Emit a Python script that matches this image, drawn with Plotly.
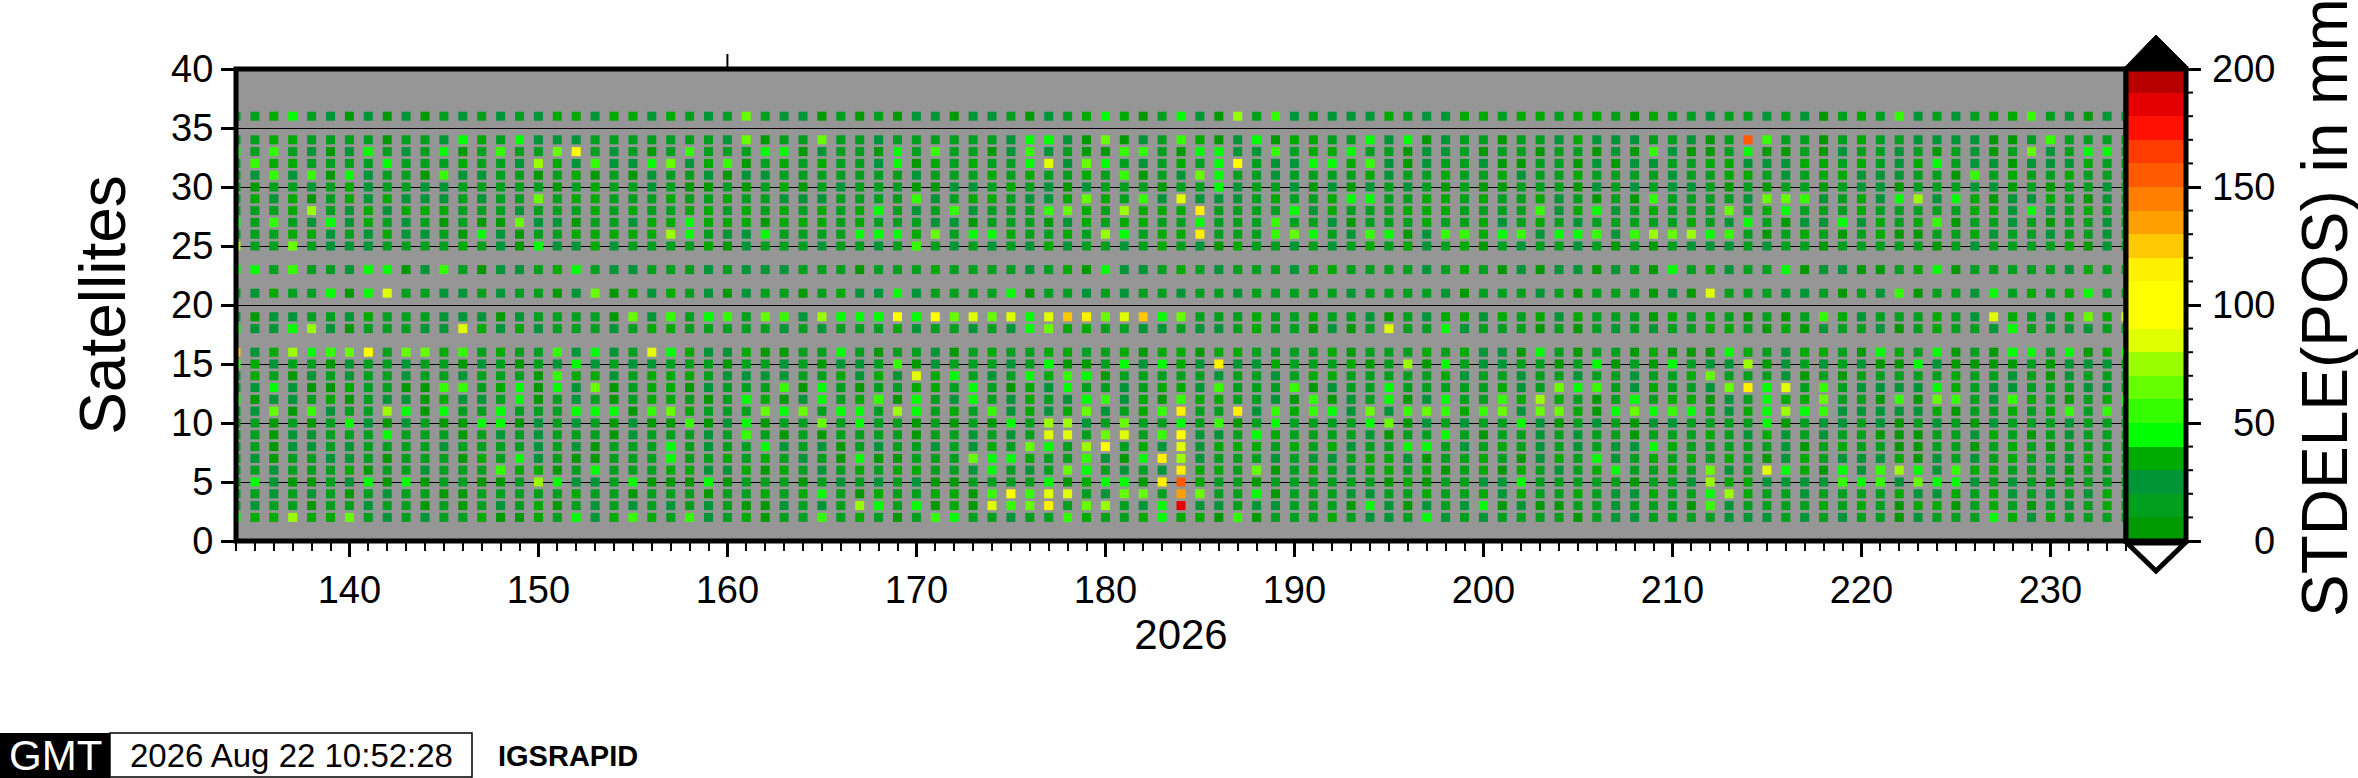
import plotly.graph_objects as go

# days of year 2026 on the x axis
days = list(range(134, 235))

# colour band per cell (band n = n*10 to n*10+10 mm)
# each row holds days 134..233 in tens, then day 234
sat36 = [1,1,3,4,1,2,0,2,0,2, 0,1,2,1,2,1,2,3,3,2, 3,3,2,3,1,2,1,6,1,2, 2,0,1,0,1,0,2,2,0,2, 2,1,0,2,1,3,4,3,0,1, 4,2,0,7,1,5,2,1,2,2, 2,3,1,2,2,3,3,1,3,3, 1,3,3,1,0,3,1,1,2,1, 1,2,1,2,0,1,3,1,5,2, 1,2,1,3,3,5,1,2,0,2, 2]
sat34 = [1,1,3,3,1,1,1,1,0,1, 1,2,4,3,1,4,2,2,2,1, 1,1,1,1,1,1,2,6,0,1, 1,6,1,1,2,1,1,1,1,1, 1,2,4,4,2,0,6,0,2,1, 5,3,0,2,4,0,3,3,1,1, 4,2,4,0,2,1,1,0,1,1, 2,3,2,2,2,1,1,2,0,1, 15,5,1,1,0,1,3,1,1,2, 2,2,2,0,0,1,5,1,1,1, 1]
sat33 = [4,1,5,1,2,0,2,4,1,2, 1,4,0,1,5,1,1,6,9,1, 2,1,0,1,5,1,1,1,4,4, 0,2,1,1,0,4,1,5,1,1, 0,2,5,2,1,0,0,5,5,1, 0,4,4,2,2,5,1,3,3,4, 1,1,0,2,2,1,0,1,1,0, 1,1,0,2,0,5,2,0,0,1, 4,0,0,1,0,2,1,1,2,1, 0,1,2,0,1,6,2,1,4,4, 1]
sat32 = [1,5,3,3,1,1,1,1,4,1, 1,1,3,1,1,2,7,3,2,5, 2,2,4,6,2,3,5,0,1,3, 1,3,1,1,2,4,0,3,1,3, 1,1,4,8,2,6,4,1,2,1, 3,1,4,9,1,2,2,4,4,3, 5,2,0,2,1,1,2,0,0,1, 1,0,2,0,2,2,1,1,3,3, 2,2,2,3,3,1,3,1,2,3, 4,1,2,2,0,2,2,2,3,1, 1]
sat31 = [1,2,5,2,5,0,4,2,1,1, 0,5,2,2,1,1,0,1,3,0, 1,0,2,1,1,2,0,2,2,1, 1,1,1,1,1,1,2,1,1,1, 3,1,3,1,1,3,1,5,0,1, 2,6,4,1,1,2,1,1,1,1, 3,2,1,1,3,1,1,3,2,1, 1,3,1,1,1,1,2,1,1,3, 3,1,2,1,3,3,2,2,2,1, 1,0,5,1,3,1,1,3,1,1, 1]
sat30 = [1,0,1,1,2,1,3,2,1,1, 2,2,1,1,1,1,1,0,1,3, 1,1,2,1,0,0,1,0,1,3, 0,1,2,1,1,1,0,0,2,2, 1,3,1,2,0,2,1,1,1,0, 1,1,4,2,1,1,2,0,2,0, 2,1,2,1,0,1,0,0,1,1, 1,0,2,1,2,1,2,2,1,0, 1,0,1,1,0,1,2,2,0,1, 1,1,2,2,0,1,0,1,1,2, 1]
sat29 = [1,3,2,3,0,1,3,2,3,2, 2,2,1,2,1,1,6,1,3,3, 1,1,1,3,1,1,3,1,1,2, 2,2,1,1,1,1,5,2,1,3, 3,1,2,2,3,6,3,1,5,2, 8,2,2,2,1,3,1,1,3,4, 4,1,1,3,3,1,3,1,1,3, 2,1,0,1,0,5,1,1,1,1, 2,6,6,5,2,1,3,2,4,7, 2,4,3,0,2,2,3,1,0,2, 1]
sat28 = [1,1,1,3,7,1,2,3,2,3, 3,3,1,1,1,2,1,1,1,3, 1,3,1,1,3,3,1,3,1,3, 1,3,1,3,4,1,2,1,5,2, 1,1,1,5,6,3,1,7,3,3, 3,11,1,1,1,1,4,2,3,1, 1,1,3,3,3,1,1,1,1,5, 2,3,4,2,1,3,1,1,1,6, 1,3,4,1,1,1,3,1,1,1, 1,1,3,3,2,4,2,1,3,1, 1]
sat27 = [4,1,5,1,2,4,2,3,1,2, 1,0,1,0,0,6,2,2,0,1, 1,2,3,3,4,3,3,3,0,3, 3,3,1,3,1,1,1,2,2,0, 1,1,1,0,2,3,1,3,3,1, 1,4,1,1,1,5,1,1,2,0, 1,1,1,3,1,1,3,2,1,3, 1,2,1,1,1,1,1,3,1,2, 4,1,0,2,2,4,2,3,1,3, 5,0,1,1,2,1,0,1,1,2, 1]
sat26 = [1,1,1,3,3,2,1,2,3,2, 2,1,0,4,2,0,1,1,3,3, 3,3,3,7,4,1,2,2,4,1, 1,1,1,4,4,4,3,6,1,4, 4,3,1,1,3,1,7,4,1,3, 3,11,1,1,1,5,6,4,1,2, 5,4,0,2,5,5,3,4,5,2, 4,4,5,2,5,7,6,7,4,5, 1,0,1,3,1,0,1,3,0,0, 1,1,3,2,1,1,2,1,1,2, 1]
sat25 = [7,1,1,6,1,2,2,2,1,1, 1,1,3,1,2,0,4,2,2,3, 2,1,1,1,1,3,0,2,1,1, 1,2,1,1,2,1,5,1,2,1, 2,1,2,3,2,1,1,2,1,3, 1,2,0,3,1,1,2,1,2,1, 3,1,3,2,1,3,0,1,2,1, 1,2,1,0,1,0,1,2,2,2, 1,2,1,1,0,1,1,1,1,1, 0,1,2,1,1,1,1,3,0,2, 1]
sat23 = [4,4,1,5,1,1,2,4,4,0, 2,5,1,0,2,2,1,3,4,1, 2,2,1,1,1,2,1,2,2,2, 1,1,1,0,1,1,1,3,1,1, 1,1,2,1,3,0,4,2,2,1, 3,1,2,1,1,1,2,3,3,1, 1,1,1,2,1,3,1,0,2,0, 2,2,0,2,1,0,4,1,3,2, 1,1,4,0,2,2,0,0,1,3, 4,0,1,1,1,1,1,2,3,1, 1]
sat21 = [1,2,3,1,1,4,0,4,8,1, 1,2,2,1,2,1,1,0,2,6, 0,3,2,3,1,2,0,2,1,1, 0,1,3,2,2,4,2,1,1,1, 1,4,0,1,1,2,1,2,1,1, 2,1,1,2,1,1,1,1,1,2, 1,1,1,1,2,0,1,1,1,2, 1,0,1,1,1,0,2,0,8,1, 1,1,2,2,1,0,1,2,5,0, 1,1,2,4,1,3,1,3,4,1, 1]
sat19 = [2,0,2,2,1,1,2,3,1,1, 1,2,2,2,0,2,1,1,1,1, 0,6,2,5,1,4,5,1,6,5, 2,7,4,4,4,9,4,9,6,8, 6,8,4,8,12,11,6,8,12,4, 6,1,1,1,3,1,1,3,1,1, 2,0,1,2,3,3,2,3,1,3, 2,3,1,1,1,0,3,1,3,1, 0,1,0,1,5,3,2,1,1,1, 3,1,2,8,3,1,2,3,6,3, 8]
sat18 = [4,2,2,4,7,2,0,1,1,1, 2,2,8,3,2,3,2,1,1,1, 2,1,3,3,1,1,1,1,1,2, 1,2,1,1,1,3,2,1,1,2, 1,2,4,6,3,3,1,1,2,2, 1,2,2,1,3,1,1,0,2,0, 1,8,1,1,4,2,1,1,1,0, 1,0,1,2,1,2,1,1,3,3, 1,0,3,0,2,1,1,2,0,1, 3,1,1,2,4,1,1,2,2,1, 1]
sat16 = [12,2,3,7,4,5,6,9,1,6, 6,3,5,1,3,1,1,5,2,4, 2,1,8,4,3,2,2,3,0,0, 1,1,4,1,0,1,1,2,0,1, 3,1,1,3,3,1,1,3,0,3, 3,0,3,3,1,1,1,1,3,0, 1,1,1,3,1,3,2,2,0,4, 1,0,1,1,0,3,0,0,0,4, 3,1,2,3,3,1,0,4,3,1, 4,0,1,0,4,4,1,4,0,3, 4]
sat15 = [5,3,2,1,1,0,2,1,1,2, 1,1,0,2,1,0,1,2,4,2, 1,2,2,1,1,1,0,1,1,2, 1,0,2,2,1,5,0,2,1,1, 1,2,1,4,0,0,1,4,2,4, 3,2,11,2,2,3,1,1,1,3, 0,1,7,0,4,1,2,2,1,1, 0,1,4,0,1,0,4,1,2,2, 7,0,2,1,2,1,2,0,0,4, 2,0,0,0,0,1,0,2,2,2, 1]
sat14 = [2,3,1,0,2,1,2,1,1,2, 1,1,2,1,1,1,0,5,3,3, 2,1,3,3,3,1,2,2,2,2, 1,1,3,2,3,2,8,3,4,1, 2,1,4,3,5,4,0,1,1,1, 1,1,2,1,1,2,1,3,3,1, 1,1,1,1,3,2,1,1,2,1, 1,2,1,1,2,1,1,3,6,1, 1,1,2,0,1,0,1,1,1,1, 1,3,1,1,2,1,0,2,1,1, 1]
sat13 = [1,2,4,2,0,0,3,1,1,0, 0,5,5,1,3,4,0,4,2,6, 0,1,3,3,0,2,1,1,1,5, 0,4,1,0,1,1,3,3,1,4, 1,0,3,2,4,1,1,2,1,3, 3,2,5,1,1,1,5,0,2,1, 1,4,1,1,1,1,1,3,2,1, 6,4,5,1,2,3,1,1,2,6, 11,4,8,1,5,1,2,2,2,2, 4,3,1,2,2,1,1,1,2,2, 1]
sat12 = [4,0,2,2,1,3,0,1,2,2, 0,3,2,2,1,4,0,1,2,1, 0,1,3,3,1,0,1,4,3,0, 2,4,1,3,5,0,4,1,2,4, 1,2,3,1,2,4,5,2,3,0, 5,3,3,1,1,2,0,5,0,2, 1,4,0,2,4,1,1,5,3,7, 3,1,0,1,4,1,3,3,0,2, 1,4,3,3,6,1,1,0,5,0, 6,5,1,2,5,3,1,0,1,3, 4]
sat11 = [1,2,6,0,5,2,1,1,7,4, 0,4,1,1,4,1,1,1,4,4, 4,0,5,6,3,1,1,1,6,4, 6,1,4,4,1,7,4,1,3,1, 5,2,3,2,3,6,2,1,3,5, 11,1,1,11,2,5,3,5,4,2, 6,2,5,6,5,3,5,6,2,6, 6,3,0,4,6,4,5,4,3,2, 3,4,7,4,5,2,2,2,2,2, 3,0,1,1,3,1,3,5,1,5, 1]
sat10 = [0,1,0,1,0,1,4,2,0,2, 1,0,0,4,4,0,2,1,2,1, 0,2,0,0,5,0,2,4,0,1, 1,6,1,4,1,1,0,1,0,1, 0,4,1,7,7,2,1,6,1,1, 4,1,5,0,1,4,1,1,1,1, 4,6,0,2,1,2,1,1,4,2, 0,1,2,1,0,2,2,1,1,1, 1,4,0,1,2,2,1,2,0,1, 2,1,0,2,1,1,1,2,1,1, 1]
sat9 = [1,1,0,2,2,1,1,1,4,1, 1,1,0,1,2,1,2,1,1,1, 0,2,1,1,1,2,1,5,1,0, 1,0,1,1,1,1,0,1,1,2, 1,2,1,8,8,1,6,8,1,5, 9,2,2,1,4,3,1,1,1,1, 2,0,1,1,4,1,0,1,1,2, 1,2,1,1,0,1,1,1,3,1, 2,3,2,1,2,1,1,0,0,0, 1,1,2,3,1,0,1,2,1,1, 1]
sat8 = [1,1,0,2,2,1,2,1,1,1, 1,2,1,1,1,1,2,1,2,0, 1,1,1,4,1,2,1,1,4,2, 1,2,0,1,2,1,1,2,1,2, 3,1,6,4,1,7,9,1,3,2, 8,2,3,3,3,1,3,1,3,2, 1,1,4,4,1,2,1,3,1,2, 1,2,1,2,2,4,3,1,1,1, 1,1,2,0,1,3,1,1,0,0, 1,1,0,1,3,1,0,1,1,1, 1]
sat7 = [1,2,0,1,1,2,2,1,0,1, 1,1,0,3,1,4,2,1,0,0, 1,1,1,4,1,1,3,1,3,1, 2,1,0,4,0,0,1,1,1,6, 4,4,3,1,1,5,2,0,4,11, 7,2,1,1,1,2,1,2,2,1, 3,3,2,0,1,1,3,1,0,2, 3,1,4,2,1,3,1,3,1,3, 1,0,2,3,1,2,2,2,3,0, 2,1,2,1,3,1,1,2,3,3, 1]
sat6 = [1,1,2,1,1,1,3,0,1,1, 2,1,1,1,5,3,3,0,1,4, 1,1,1,3,3,2,2,3,0,3, 1,2,1,3,1,3,3,1,1,2, 4,1,2,1,6,4,1,2,1,2, 11,3,3,1,6,0,1,3,1,2, 3,3,1,3,0,1,3,0,3,1, 2,1,3,4,1,1,3,1,6,2, 1,8,4,3,0,4,2,5,7,4, 2,5,3,3,1,1,2,0,1,1, 1]
sat5 = [0,4,2,0,0,1,2,4,0,4, 0,1,1,0,0,1,7,4,2,2, 1,4,0,0,0,4,0,1,1,1, 0,1,2,1,2,1,2,0,0,1, 1,1,1,4,0,3,4,4,0,11, 15,3,1,1,0,1,1,1,1,1, 1,0,3,0,1,1,2,2,4,1, 1,1,1,1,0,1,1,2,7,3, 3,2,2,2,2,5,4,5,2,6, 4,4,2,1,2,1,0,1,1,1, 1]
sat4 = [1,1,2,1,2,1,0,1,2,1, 1,0,0,1,1,1,1,1,3,1, 1,0,1,1,1,0,1,1,3,1, 3,4,1,0,3,1,1,3,3,0, 5,9,5,8,8,1,2,6,6,1, 13,6,1,1,4,0,1,1,1,2, 2,1,1,3,1,1,3,2,3,1, 1,3,1,2,2,3,1,1,4,7, 3,1,1,2,1,1,1,1,3,2, 2,3,1,3,2,1,2,1,2,3, 1]
sat3 = [1,2,1,1,0,1,1,2,1,1, 0,1,0,1,2,1,3,0,1,2, 1,2,1,2,1,2,1,0,0,2, 1,2,1,7,4,1,4,0,3,0, 8,5,6,11,1,6,7,1,2,4, 18,2,2,1,2,2,1,1,1,0, 4,2,0,2,1,2,4,0,2,0, 0,1,1,2,1,1,1,0,5,2, 1,1,1,1,3,1,3,1,0,3, 3,0,1,3,1,0,1,2,1,3, 1]
sat2 = [4,3,3,7,3,3,6,1,2,1, 2,1,1,3,0,0,3,1,4,2, 3,5,3,1,5,2,1,3,0,1, 1,5,1,3,1,0,1,5,4,1, 1,2,1,1,5,3,1,1,3,4, 3,3,0,5,0,1,1,1,3,1, 2,2,1,4,2,1,2,1,1,1, 1,0,1,2,2,1,1,1,1,2, 2,2,1,2,1,2,1,1,0,2, 1,1,1,4,3,2,3,1,1,1, 1]

rows = {36: sat36, 34: sat34, 33: sat33, 32: sat32, 31: sat31, 30: sat30, 29: sat29,
        28: sat28, 27: sat27, 26: sat26, 25: sat25, 23: sat23, 21: sat21, 19: sat19,
        18: sat18, 16: sat16, 15: sat15, 14: sat14, 13: sat13, 12: sat12, 11: sat11,
        10: sat10, 9: sat9, 8: sat8, 7: sat7, 6: sat6, 5: sat5, 4: sat4, 3: sat3, 2: sat2}

# one colour per 10 mm band, 0 to 200
band_colors = ["#009900", "#00a01e", "#009638", "#00aa00", "#00ff00", "#33ff00", "#66ff00",
               "#99ff00", "#e0ff00", "#ffff00", "#ffff00", "#fff000", "#ffc800", "#ffa000",
               "#ff8000", "#ff5a00", "#ff3c00", "#ff1000", "#e40000", "#b80000"]
bar_ticks = [0, 50, 100, 150, 200]

FONT = "Liberation Sans"
W, H = 2358, 778
LEFT, RIGHT, TOP, BOTTOM = 236, 2126, 69, 541


def xp(px):
    return (px - LEFT) / (RIGHT - LEFT)


def yp(py):
    return (BOTTOM - py) / (BOTTOM - TOP)


x, y, v = [], [], []
for sat, row in rows.items():
    if len(row) != len(days):
        raise ValueError(f"sat {sat} has {len(row)} cells")
    for day, band in zip(days, row):
        x.append(day)
        y.append(sat)
        v.append(band * 10 + 5)

scale = []
for i, c in enumerate(band_colors):
    scale.append([i / 20, c])
    scale.append([(i + 1) / 20, c])

fig = go.Figure(go.Scatter(
    x=x, y=y, mode="markers",
    marker=dict(
        symbol="square", size=9, color=v, cmin=0, cmax=200, colorscale=scale,
        line=dict(width=0),
        colorbar=dict(
            x=1, xanchor="left", xpad=0, y=0.5, yanchor="middle", ypad=0, len=1,
            thickness=60, outlinewidth=5, outlinecolor="black",
            tick0=0, dtick=50, ticks="outside", ticklen=13, tickwidth=2.5, tickcolor="black",
            showticklabels=False,
        ),
    ),
    showlegend=False,
))

fig.update_xaxes(
    range=[134, 234], tick0=140, dtick=10, ticks="outside", ticklen=15, tickwidth=2.5,
    tickcolor="black", showline=False, showgrid=False, zeroline=False,
    tickfont=dict(family=FONT, size=38, color="black"),
    minor=dict(dtick=1, tick0=134, ticks="outside", ticklen=9, tickwidth=2, tickcolor="black", showgrid=False),
    title=dict(text="2026", font=dict(family=FONT, size=42, color="black"), standoff=6),
)
fig.update_yaxes(
    range=[0, 40], tick0=0, dtick=5, ticks="outside", ticklen=14, tickwidth=2.5,
    tickcolor="black", showline=False, showgrid=True, gridcolor="black", gridwidth=1.2, zeroline=False,
    tickfont=dict(family=FONT, size=38, color="black"),
    title=dict(text="Satellites", font=dict(family=FONT, size=64, color="black"), standoff=24),
)

shapes = [
    # frame, centred on the plot edge
    dict(type="rect", xref="paper", yref="paper", x0=0, x1=1, y0=0, y1=1,
         line=dict(color="black", width=5)),
    # tick standing above the frame at day 160
    dict(type="line", xref="x", yref="paper", x0=160, x1=160, y0=1, y1=yp(54),
         line=dict(color="black", width=2)),
    # colour bar end caps
    dict(type="path", xref="paper", yref="paper", fillcolor="black", line=dict(color="black", width=1),
         path=f"M {xp(2125)} {yp(67)} L {xp(2156)} {yp(35)} L {xp(2188)} {yp(67)} Z"),
    dict(type="path", xref="paper", yref="paper", fillcolor="white", line=dict(color="black", width=5),
         path=f"M {xp(2127)} {yp(543)} L {xp(2156)} {yp(571)} L {xp(2185)} {yp(543)} Z"),
    # footer boxes
    dict(type="rect", xref="paper", yref="paper", x0=xp(0), x1=xp(110), y0=yp(733), y1=yp(778),
         fillcolor="black", line=dict(color="black", width=0)),
    dict(type="rect", xref="paper", yref="paper", x0=xp(110), x1=xp(472), y0=yp(733), y1=yp(777),
         fillcolor="white", line=dict(color="black", width=1.5)),
]
# minor ticks of the colour bar
for val in range(10, 200, 10):
    if val % 50:
        py = BOTTOM - val / 200 * (BOTTOM - TOP)
        shapes.append(dict(type="line", xref="paper", yref="paper", x0=xp(2186), x1=xp(2193),
                           y0=yp(py), y1=yp(py), line=dict(color="black", width=2)))

annotations = [
    dict(text="STDELE(POS) in mm", x=xp(2325), y=yp(308), textangle=-90,
         font=dict(family=FONT, size=64, color="black")),
    dict(text="GMT", x=xp(55), y=yp(755), font=dict(family=FONT, size=42, color="white")),
    dict(text="2026 Aug 22 10:52:28", x=xp(291), y=yp(755), font=dict(family=FONT, size=33, color="black")),
    dict(text="<b>IGSRAPID</b>", x=xp(496), y=yp(756), xanchor="left", font=dict(family=FONT, size=29, color="black")),
]
# colour bar labels are right aligned, which the colour bar itself cannot do
for t in bar_ticks:
    annotations.append(dict(text=str(t), x=xp(2277), y=t / 200, xanchor="right",
                            font=dict(family=FONT, size=38, color="black")))
for a in annotations:
    a.update(xref="paper", yref="paper", showarrow=False)
    a.setdefault("xanchor", "center")
    a.setdefault("yanchor", "middle")

fig.update_layout(
    width=W, height=H, autosize=False,
    margin=dict(l=LEFT, r=W - RIGHT, t=TOP, b=H - BOTTOM, pad=0),
    plot_bgcolor="#969696", paper_bgcolor="white",
    shapes=shapes, annotations=annotations,
)

fig.write_html("out.html", config={"displayModeBar": False},
               post_script="document.body.style.margin='0'")
